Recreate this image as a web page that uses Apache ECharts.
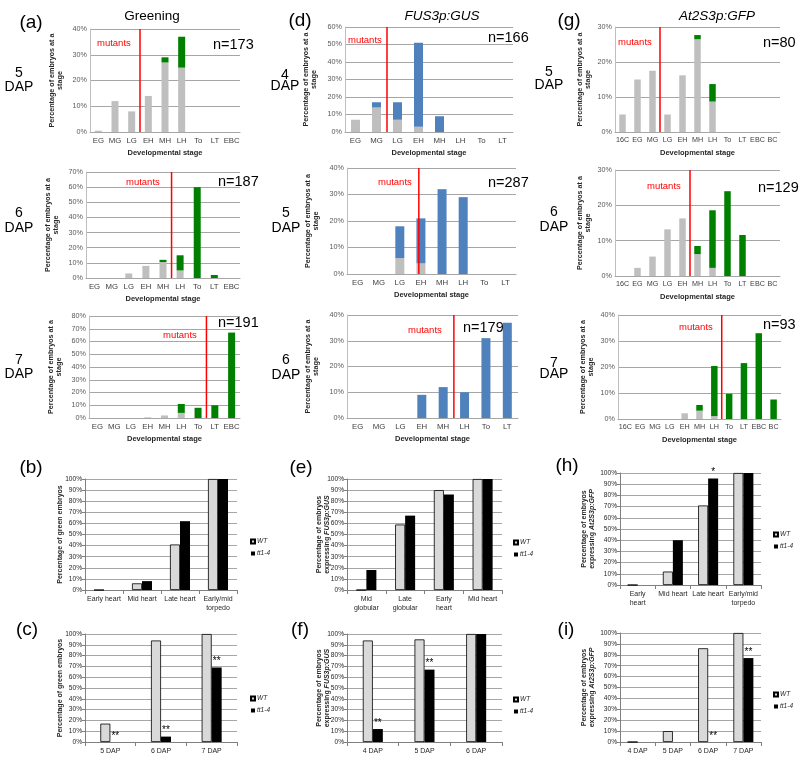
<!DOCTYPE html>
<html><head><meta charset="utf-8">
<script src="https://cdn.jsdelivr.net/npm/echarts@6/dist/echarts.min.js"></script>
<style>html,body{margin:0;padding:0;background:#fff}#c{width:800px;height:766px}</style>
</head><body><div id="c"></div>
<script>
// ---------- data ----------
const aCats = ['EG','MG','LG','EH','MH','LH','To','LT','EBC'];
const a5Gray  = [0.5,12,8,14,27,25,0,0,0];
const a5Green = [0,0,0,0,2,12,0,0,0];
const a6Gray  = [0,0,3,8,10.5,5,0,0,0];
const a6Green = [0,0,0,0,1.5,10,60,2,0];
const a7Gray  = [0,0,0,0.5,2,4,0,0,0];
const a7Green = [0,0,0,0,0,7,8,10,67];
const dCats = ['EG','MG','LG','EH','MH','LH','To','LT'];
const d4Gray = [7,14,7,3,0,0,0,0];
const d4Blue = [0,3,10,48,9,0,0,0];
const d5Gray = [0,0,6,4,0,0,0,0];
const d5Blue = [0,0,12,17,32,29,0,0];
const d6Gray = [0,0,0,0,0,0,0,0];
const d6Blue = [0,0,0,9,12,10,31,37];
const gCats = ['16C','EG','MG','LG','EH','MH','LH','To','LT','EBC','BC'];
const g5Gray  = [5,15,17.5,5,16.2,26.5,8.7,0,0,0,0];
const g5Green = [0,0,0,0,0,1.2,5,0,0,0,0];
const g6Gray  = [0,2.3,5.5,13.2,16.3,6.2,2.3,0,0,0,0];
const g6Green = [0,0,0,0,0,2.3,16.3,24,11.6,0,0];
const g7Gray  = [0,0,0,0,2.2,3.2,1.1,0,0,0,0];
const g7Green = [0,0,0,0,0,2.2,19.3,9.7,21.5,33,7.5];
// mutant boundary positions (in category units from the left edge)
const mutantAt = {a5:3, a6:5, a7:7, d4:2, d5:3.4, d6:5, g5:3, g6:5, g7:7};
const nLabels = {a5:'n=173', a6:'n=187', a7:'n=191', d4:'n=166', d5:'n=287', d6:'n=179', g5:'n=80', g6:'n=129', g7:'n=93'};

const bCats = ['Early heart','Mid heart','Late heart','Early/mid\ntorpedo'];
const bWT = [0,6,41,100];
const bTT = [0,8,62,100];
const cCats = ['5 DAP','6 DAP','7 DAP'];
const cWT = [17,94,100];
const cTT = [0,5,69];
const cSig = ['**','**','**'];
const eCats = ['Mid\nglobular','Late\nglobular','Early\nheart','Mid heart'];
const eWT = [0,59,90,100];
const eTT = [18,67,86,100];
const fCats = ['4 DAP','5 DAP','6 DAP'];
const fWT = [94,95,100];
const fTT = [12,67,100];
const fSig = ['**','**',''];
const hCats = ['Early\nheart','Mid heart','Late heart','Early/mid\ntorpedo'];
const hWT = [0,12,71,100];
const hTT = [0,40,95,100];
const hSig = ['','','*',''];
const iCats = ['4 DAP','5 DAP','6 DAP','7 DAP'];
const iWT = [0,10,86,100];
const iTT = [0,0,0,77];
const iSig = ['','','**','**'];

// ---------- builders ----------
const FONT = 'Liberation Sans, Arial, sans-serif';
const grids=[], xAxes=[], yAxes=[], series=[], graphics=[], legends=[];
const GRAY='#bfbfbf', GREEN='#008000', BLUE='#4f81bd', RED='#ff0000';

function stacked(r, cats, lower, upper, upColor, yMax, yInt, lineAt, barW, catFont, yGap){
  const gi=grids.length;
  grids.push({left:r[0], top:r[1], width:r[2]-r[0], height:r[3]-r[1]});
  const xi=xAxes.length;
  xAxes.push({type:'category', gridIndex:gi, data:cats,
    axisLine:{lineStyle:{color:'#a6a6a6'}}, axisTick:{show:false},
    axisLabel:{interval:0, fontSize:catFont, color:'#404040', margin:5, fontFamily:FONT},
    name:'Developmental stage', nameLocation:'middle', nameGap:17, nameMoveOverlap:false,
    nameTextStyle:{fontSize:7.5, fontWeight:'bold', color:'#262626', fontFamily:FONT}});
  xAxes.push({type:'value', gridIndex:gi, min:0, max:cats.length, show:false});
  const yi=yAxes.length;
  yAxes.push({type:'value', gridIndex:gi, min:0, max:yMax, interval:yInt,
    axisLine:{show:true, lineStyle:{color:'#bfbfbf'}}, axisTick:{show:false},
    splitLine:{lineStyle:{color:'#a6a6a6'}},
    axisLabel:{formatter:'{value}%', fontSize:7.2, color:'#595959', margin:3, fontFamily:FONT},
    name:'Percentage of embryos at a\nstage', nameLocation:'middle', nameRotate:90, nameGap:yGap,
    nameMoveOverlap:false,
    nameTextStyle:{fontSize:7.2, fontWeight:'bold', color:'#262626', lineHeight:8, fontFamily:FONT}});
  series.push({type:'bar', xAxisIndex:xi, yAxisIndex:yi, stack:'s'+gi, data:lower, barWidth:barW,
    itemStyle:{color:GRAY}, silent:true});
  series.push({type:'bar', xAxisIndex:xi, yAxisIndex:yi, stack:'s'+gi, data:upper, barWidth:barW,
    itemStyle:{color:upColor}, silent:true});
  series.push({type:'line', xAxisIndex:xi+1, yAxisIndex:yi, data:[[lineAt,0],[lineAt,yMax]],
    symbol:'none', lineStyle:{color:RED, width:1.5}, silent:true, z:5});
}

function paired(r, cats, wt, tt, sig, yName, yGap, legPos){
  const gi=grids.length;
  grids.push({left:r[0], top:r[1], width:r[2]-r[0], height:r[3]-r[1]});
  const xi=xAxes.length;
  xAxes.push({type:'category', gridIndex:gi, data:cats,
    axisLine:{lineStyle:{color:'#808080'}}, axisTick:{show:true, length:4, lineStyle:{color:'#808080'}},
    axisLabel:{interval:0, fontSize:7, color:'#262626', margin:5, lineHeight:9, fontFamily:FONT}});
  const yi=yAxes.length;
  yAxes.push({type:'value', gridIndex:gi, min:0, max:100, interval:10,
    axisLine:{show:true, lineStyle:{color:'#808080'}}, axisTick:{show:true, length:3, lineStyle:{color:'#808080'}},
    splitLine:{lineStyle:{color:'#a6a6a6'}},
    axisLabel:{formatter:'{value}%', fontSize:6.6, color:'#262626', margin:3, fontFamily:FONT},
    name:yName, nameLocation:'middle', nameRotate:90, nameGap:yGap, nameMoveOverlap:false,
    nameTextStyle:{fontSize:7, fontWeight:'bold', color:'#262626', lineHeight:8, fontFamily:FONT,
      rich:{n:{fontSize:7, fontWeight:'bold', color:'#262626', lineHeight:8, fontFamily:FONT},
            i:{fontSize:7, fontWeight:'bold', fontStyle:'italic', color:'#262626', lineHeight:8, fontFamily:FONT}}}});
  series.push({type:'bar', name:'WT', xAxisIndex:xi, yAxisIndex:yi, data:wt, barWidth:10, barGap:'0%',
    itemStyle:{color:'#d9d9d9', borderColor:'#000', borderWidth:0.8}, silent:true});
  series.push({type:'bar', name:'tt1-4', xAxisIndex:xi, yAxisIndex:yi, data:tt, barWidth:10, barGap:'0%',
    itemStyle:{color:'#000'}, silent:true,
    label:{show:!!sig, position:'top', distance:1, fontSize:10, color:'#000', fontFamily:FONT,
      formatter:p=> sig ? sig[p.dataIndex] : ''}});
  legends.push({left:legPos[0], top:legPos[1], orient:'vertical', data:['WT','tt1-4'],
    itemWidth:4, itemHeight:4, itemGap:5, icon:'rect', selectedMode:false,
    textStyle:{fontSize:6.5, fontStyle:'italic', color:'#262626', fontFamily:FONT, padding:[0,0,0,-3]}});
}

function tc(x,y,s,font,fill,align){ graphics.push({type:'text', x:x, y:y, silent:true,
  style:{text:s, fill:fill||'#000', font:font, textAlign:align||'center', textVerticalAlign:'middle'}}); }

// ---------- top panels ----------
stacked([90,29,240,132], aCats, a5Gray, a5Green, GREEN, 40, 10, mutantAt.a5, 7, 7.8, 26);
stacked([86,172,240,278], aCats, a6Gray, a6Green, GREEN, 70, 10, mutantAt.a6, 7, 7.8, 26);
stacked([89,316,240,418], aCats, a7Gray, a7Green, GREEN, 80, 10, mutantAt.a7, 7, 7.8, 26);
stacked([345,27,513,132], dCats, d4Gray, d4Blue, BLUE, 60, 10, mutantAt.d4, 9, 7.8, 27);
stacked([347,168,516,274], dCats, d5Gray, d5Blue, BLUE, 40, 10, mutantAt.d5, 9, 7.8, 27);
stacked([347,315,518,418], dCats, d6Gray, d6Blue, BLUE, 40, 10, mutantAt.d6, 9, 7.8, 27);
stacked([615,27,780,132], gCats, g5Gray, g5Green, GREEN, 30, 10, mutantAt.g5, 6.5, 7.2, 23);
stacked([615,170,780,276], gCats, g6Gray, g6Green, GREEN, 30, 10, mutantAt.g6, 6.5, 7.2, 23);
stacked([618,315,781,419], gCats, g7Gray, g7Green, GREEN, 40, 10, mutantAt.g7, 6.5, 7.2, 23);

// ---------- bottom panels ----------
const gName = 'Percentage of green embryos';
const fusName = '{n|Percentage of embryos}\n{n|expressing }{i|FUS3p:GUS}';
const atName = '{n|Percentage of embryos}\n{n|expressing }{i|At2S3p:GFP}';
paired([85,479,237,590], bCats, bWT, bTT, null, gName, 21, [245,533]);
paired([85,634,237,742], cCats, cWT, cTT, cSig, gName, 21, [245,690]);
paired([347,479,502,590], eCats, eWT, eTT, null, fusName, 16, [508,534]);
paired([347,634,502,742], fCats, fWT, fTT, fSig, fusName, 16, [508,691]);
paired([620,473,761,585], hCats, hWT, hTT, hSig, atName, 24, [768,526]);
paired([620,633,761,742], iCats, iWT, iTT, iSig, atName, 24, [768,686]);

// ---------- texts ----------
const big = '19px '+FONT;
tc(31,23,'(a)',big); tc(300,21,'(d)',big); tc(569,21,'(g)',big);
tc(31,468,'(b)',big); tc(301,468,'(e)',big); tc(567,466,'(h)',big);
tc(27,630,'(c)',big); tc(300,630,'(f)',big); tc(566,630,'(i)',big);
tc(152,16,'Greening','13.5px '+FONT);
tc(442,16,'FUS3p:GUS','italic 13.5px '+FONT);
tc(717,16,'At2S3p:GFP','italic 13.5px '+FONT);
const dapF='14px '+FONT;
function dap(cx, y1, y2, d){ tc(cx, y1, d, dapF); tc(cx, y2, 'DAP', dapF); }
dap(19,73,87,'5'); dap(19,213,228,'6'); dap(19,360,374,'7');
dap(285,75,86,'4'); dap(286,213,228,'5'); dap(286,360,375,'6');
dap(549,72,85,'5'); dap(554,212,227,'6'); dap(554,363,374,'7');
const nPos = {a5:[213,45], a6:[218,182], a7:[218,323], d4:[488,38], d5:[488,183], d6:[463,328], g5:[763,43], g6:[758,188], g7:[763,325]};
for (const k in nPos) tc(nPos[k][0], nPos[k][1], nLabels[k], '14.5px '+FONT, '#000', 'left');
const mPos = {a5:[97,43], a6:[126,182], a7:[163,335], d4:[348,40], d5:[378,182], d6:[408,330], g5:[618,42], g6:[647,186], g7:[679,327]};
for (const k in mPos) tc(mPos[k][0], mPos[k][1], 'mutants', '9.5px '+FONT, RED, 'left');

const chart = echarts.init(document.getElementById('c'), null, {renderer:'canvas'});
chart.setOption({animation:false, backgroundColor:'#fff', textStyle:{fontFamily:FONT},
  grid:grids, xAxis:xAxes, yAxis:yAxes, series:series, legend:legends, graphic:graphics});
</script></body></html>
